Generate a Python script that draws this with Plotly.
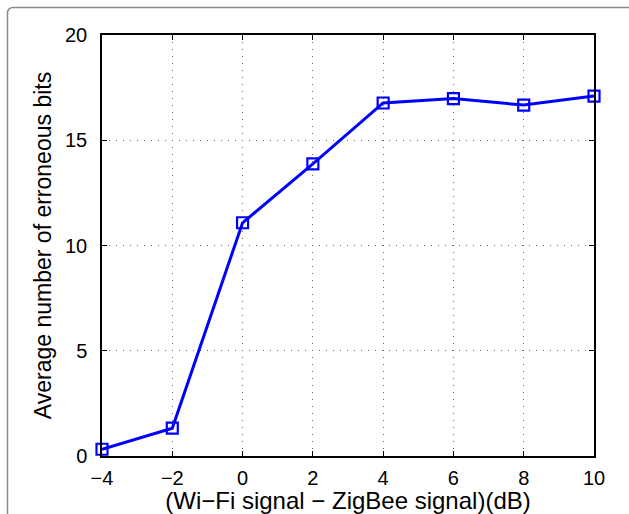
import plotly.graph_objects as go

x_vals = [-4, -2, 0, 2, 4, 6, 8, 10]
y_vals = [0.32, 1.32, 11.08, 13.88, 16.77, 16.98, 16.67, 17.1]
x_ticks = [-4, -2, 0, 2, 4, 6, 8, 10]
y_ticks = [0, 5, 10, 15, 20]
x_title = "(Wi\u2212Fi signal \u2212 ZigBee signal)(dB)"
y_title = "Average number of erroneous bits"

W, H = 629, 514
ML, MR, MT, MB = 102, 35, 35, 58
pw, ph = W - ML - MR, H - MT - MB

def px(xp):
    return (xp - ML) / pw

def py(yp):
    return (H - MB - yp) / ph

fig = go.Figure()
fig.add_trace(go.Scatter(
    x=x_vals, y=y_vals, mode="lines+markers",
    line=dict(color="#0000ff", width=3),
    marker=dict(symbol="square-open", size=11, color="#0000ff",
                line=dict(color="#0000ff", width=2.2)),
    showlegend=False, cliponaxis=False,
))

r = 6
left, top = 7.5, 7.5
frame_path = (
    f"M {px(left)} {py(H + 20)} L {px(left)} {py(top + r)} "
    f"Q {px(left)} {py(top)} {px(left + r)} {py(top)} L {px(W + 20)} {py(top)}"
)
fig.add_shape(type="path", path=frame_path, xref="paper", yref="paper",
              line=dict(color="#8a8a8a", width=1.5), layer="below")

fam = "Liberation Sans, Arial, Helvetica"
tick_font = dict(family=fam, size=20, color="black")
axis_common = dict(
    showline=True, linecolor="black", linewidth=1.5, mirror="ticks",
    ticks="inside", ticklen=5, tickwidth=1, tickcolor="black",
    showgrid=True, gridcolor="#666666", gridwidth=1, griddash="1px,6px",
    zeroline=False, tickfont=tick_font, automargin=False,
)
fig.update_xaxes(range=[-4, 10], tickvals=x_ticks, ticklabelstandoff=3,
                 title=dict(text=x_title, font=dict(family=fam, size=24, color="black"), standoff=0),
                 **axis_common)
fig.update_yaxes(range=[0, 20], tickvals=y_ticks, ticklabelstandoff=9,
                 title=dict(text=y_title, font=dict(family=fam, size=23, color="black"), standoff=7),
                 **axis_common)
fig.update_layout(
    width=W, height=H,
    margin=dict(l=ML, r=MR, t=MT, b=MB),
    paper_bgcolor="white", plot_bgcolor="white",
)
fig.write_html("out.html")
